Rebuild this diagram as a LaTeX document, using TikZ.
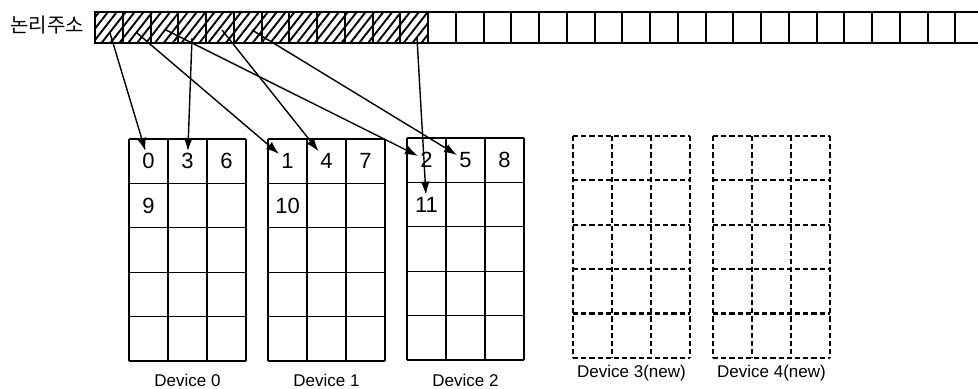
\documentclass[tikz,border=0pt]{standalone}
\usepackage{fontspec}
\setmainfont{Liberation Sans}
\newfontfamily\krfont{Noto Sans CJK KR}
\usetikzlibrary{arrows.meta, patterns.meta}

\tikzset{
  addrcell/.style={draw, line width=1pt, minimum width=13.875pt, minimum height=15.5pt, inner sep=0pt},
  usedcell/.style={addrcell, pattern={Lines[angle=52, distance=3.5pt, line width=0.95pt]}},
  devline/.style={line width=0.6pt},
  newdevline/.style={line width=1.1pt, dash pattern=on 2.6pt off 1.5pt},
  digit/.style={font=\fontsize{11}{12}\selectfont, inner sep=1pt},
  devlabel/.style={font=\fontsize{8.5}{10}\selectfont},
  link/.style={-{Latex[length=6.5pt, width=4.5pt]}, line width=0.7pt},
}

\begin{document}
\begin{tikzpicture}[x=0.5pt, y=-0.5pt]
  \useasboundingbox (0,0) rectangle (978,389);

  % logical address strip
  \node[font=\krfont\fontsize{10}{12}\selectfont] (addrlabel) at (47,25.5) {논리주소};
  \foreach \i in {0,...,11}
    \node[usedcell] (a\i) at (108.875+\i*27.75, 27.5) {};
  \foreach \i in {12,...,31}
    \node[addrcell] (a\i) at (108.875+\i*27.75, 27.5) {};

  % devices
  \foreach \dx/\dy/\ly/\dsty/\dtext [count=\k from 0] in {
      129/139/380/devline/{Device 0},
      268/139/380/devline/{Device 1},
      407/138/380/devline/{Device 2},
      573/136/373/newdevline/{Device 3(new)},
      713/136/373/newdevline/{Device 4(new)}} {
    \foreach \c in {0,...,3}
      \draw[\dsty] (\dx+\c*39, \dy) -- (\dx+\c*39, \dy+222);
    \foreach \r in {0,...,5}
      \draw[\dsty] (\dx, \dy+\r*44.4) -- (\dx+117, \dy+\r*44.4);
    \node[devlabel] (dev\k) at (\dx+58.5, \ly) {\dtext};
  }

  % stripe units
  \node[digit] (n0) at (148.5,161.2) {0};
  \node[digit] (n3) at (187.5,161.2) {3};
  \node[digit] (n6) at (226.5,161.2) {6};
  \node[digit] (n9) at (148.5,205.6) {9};
  \node[digit] (n1) at (287.5,161.2) {1};
  \node[digit] (n4) at (326.5,161.2) {4};
  \node[digit] (n7) at (365.5,161.2) {7};
  \node[digit] (n10) at (287.5,205.6) {10};
  \node[digit] (n2) at (426.5,160.2) {2};
  \node[digit] (n5) at (465.5,160.2) {5};
  \node[digit] (n8) at (504.5,160.2) {8};
  \node[digit] (n11) at (426.5,204.6) {11};

  % mapping
  \coordinate (s0) at (110,33);
  \coordinate (s1) at (137,33);
  \coordinate (s2) at (166,30);
  \coordinate (s3) at (192,38);
  \coordinate (s4) at (222,30);
  \coordinate (s5) at (252,30);
  \coordinate (s11) at (417,38);
  \draw[link] (s0) -- (n0);
  \draw[link] (s1) -- (n1);
  \draw[link] (s2) -- (n2);
  \draw[link] (s3) -- (n3);
  \draw[link] (s4) -- (n4);
  \draw[link] (s5) -- (n5);
  \draw[link] (s11) -- (n11);
\end{tikzpicture}
\end{document}
